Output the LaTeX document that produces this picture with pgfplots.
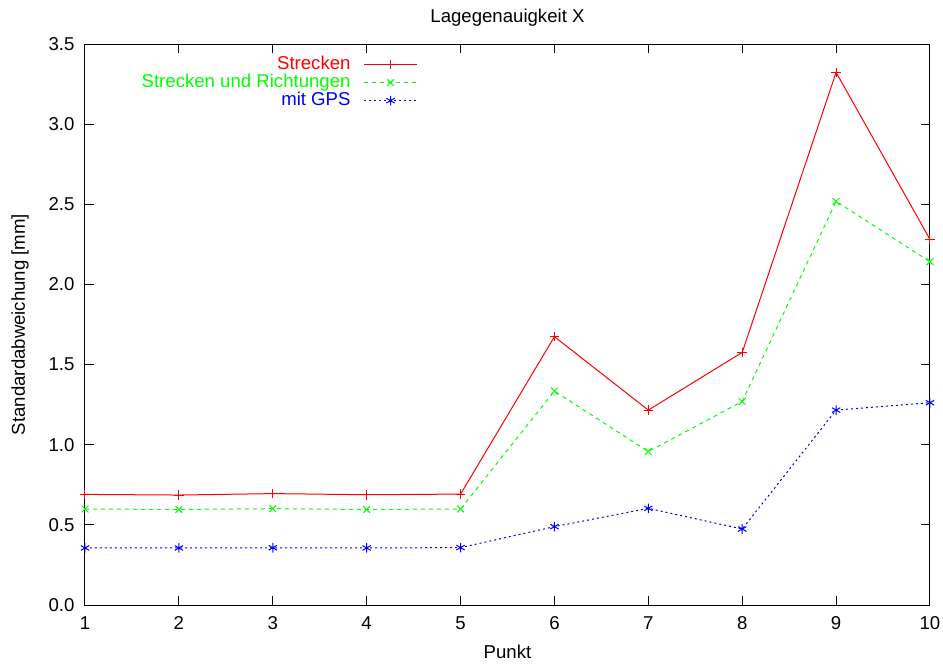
\documentclass[border=0pt]{standalone}
\usepackage{pgfplots}
\pgfplotsset{compat=1.18}
\usepackage{fontspec}
\setmainfont{Liberation Sans}

\definecolor{gpred}{RGB}{255,0,0}
\definecolor{gpgreen}{RGB}{0,255,0}
\definecolor{gpblue}{RGB}{0,0,255}

\newcommand{\gpfont}{\fontsize{9.3}{11}\selectfont}

\begin{document}
\gpfont
\begin{tikzpicture}
\path[use as bounding box] (0,0) rectangle (471.5pt,333pt);
\begin{axis}[
    at={(42.5pt,30.5pt)}, anchor=south west,
    scale only axis,
    width=422.5pt, height=280.5pt,
    xmin=1, xmax=10, ymin=0, ymax=3.5,
    xtick={1,...,10},
    ytick={0,0.5,...,3.5},
    tick align=inside,
    major tick length=4.5pt,
    axis line style={line width=0.5pt},
    every tick/.style={black, line width=0.5pt},
    /pgf/number format/assume math mode=true,
    ticklabel style={font=\gpfont},
    xticklabel style={yshift=-2.5pt},
    yticklabel style={xshift=-2pt, /pgf/number format/.cd, fixed, fixed zerofill, precision=1},
    title={Lagegenauigkeit X},
    every axis title/.style={at={(0.5,1)}, anchor=center, yshift=13pt, font=\gpfont},
    xlabel={Punkt},
    every axis x label/.style={at={(0.5,0)}, anchor=center, yshift=-23.5pt, font=\gpfont},
    ylabel={Standardabweichung [mm]},
    every axis y label/.style={at={(0,0.5)}, xshift=-32.5pt, rotate=90, anchor=center, font=\gpfont},
    legend style={at={(0.394,0.980)}, anchor=north east, draw=none, fill=none,
        font=\gpfont, row sep=0pt, column sep=6.5pt, inner sep=0pt,
        nodes={inner sep=0pt, text height=6.8pt, text depth=2.2pt}},
    legend cell align=right,
    legend plot pos=right,
    legend image code/.code={
        \draw[mark repeat=2, mark phase=2] plot coordinates {(0pt,0pt) (13.25pt,0pt) (26.5pt,0pt)};
    },
    every axis plot/.append style={line width=0.5pt, mark size=2.4pt},
]
\addplot[gpred, mark=+, mark options={solid}] coordinates {
    (1,0.690) (2,0.686) (3,0.695) (4,0.688) (5,0.692)
    (6,1.674) (7,1.216) (8,1.576) (9,3.323) (10,2.281)
};
\addlegendentry{\textcolor{gpred}{Strecken}}
\addplot[gpgreen, dash pattern=on 2pt off 2pt, mark=x, mark options={solid}] coordinates {
    (1,0.599) (2,0.596) (3,0.601) (4,0.596) (5,0.599)
    (6,1.335) (7,0.957) (8,1.270) (9,2.518) (10,2.142)
};
\addlegendentry{\textcolor{gpgreen}{Strecken und Richtungen}}
\addplot[gpblue, dash pattern=on 1pt off 1.5pt, mark=asterisk, mark options={solid}] coordinates {
    (1,0.356) (2,0.356) (3,0.357) (4,0.356) (5,0.358)
    (6,0.489) (7,0.603) (8,0.474) (9,1.216) (10,1.262)
};
\addlegendentry{\textcolor{gpblue}{mit GPS}}
\end{axis}
\end{tikzpicture}
\end{document}
